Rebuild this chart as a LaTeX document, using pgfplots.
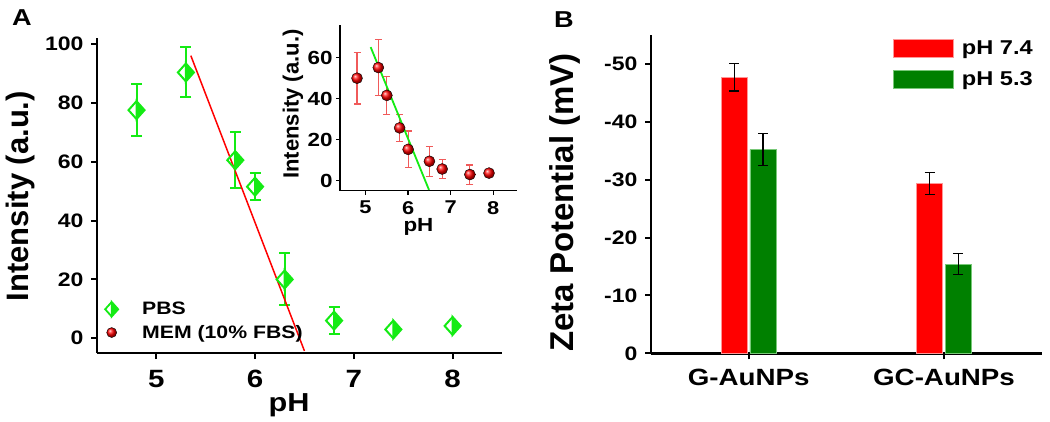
\documentclass[border=0pt]{standalone}
\usepackage{fontspec}
\setmainfont{Liberation Sans}[FakeStretch=1.18]
\newfontfamily\rotfont{Liberation Sans}
\usepackage{pgfplots}
\pgfplotsset{compat=1.18}
\definecolor{lgreen}{RGB}{20,235,20}
\definecolor{dgreen}{RGB}{0,128,0}
\definecolor{ebred}{RGB}{240,90,90}
\definecolor{rededge}{RGB}{255,150,150}
\definecolor{greenedge}{RGB}{120,200,120}
\newcommand{\fs}[1]{\fontsize{#1bp}{#1bp}\selectfont\bfseries}
\pgfdeclareplotmark{halfdiamond}{%
  \pgfpathmoveto{\pgfqpoint{0pt}{1.12\pgfplotmarksize}}%
  \pgfpathlineto{\pgfqpoint{\pgfplotmarksize}{0pt}}%
  \pgfpathlineto{\pgfqpoint{0pt}{-1.12\pgfplotmarksize}}%
  \pgfpathclose
  \pgfusepathqfillstroke
  \pgfpathmoveto{\pgfqpoint{0pt}{1.12\pgfplotmarksize}}%
  \pgfpathlineto{\pgfqpoint{-\pgfplotmarksize}{0pt}}%
  \pgfpathlineto{\pgfqpoint{0pt}{-1.12\pgfplotmarksize}}%
  \pgfusepathqstroke
}
\pgfplotsset{
  myax/.style={scale only axis, anchor=south west, axis lines=left,
    axis line style={-, line width=2.5bp}, tick align=outside,
    major tick length=6bp, every tick/.style={black, line width=2bp},
    /pgf/number format/assume math mode=true, clip=false,
    minor tick num=0},
}
\begin{document}
\begin{tikzpicture}
\useasboundingbox (0bp,0bp) rectangle (1050bp,422bp);
\node[font=\fs{23}] at (22bp,404bp) {A};
\node[font=\fs{23}] at (564bp,402bp) {B};

% ---------- Panel A main ----------
\begin{axis}[myax, at={(97bp,69bp)}, width=405bp, height=315bp,
  xmin=4.4, xmax=8.5, ymin=-5, ymax=102,
  xtick={5,6,7,8}, ytick={0,20,40,60,80,100},
  xticklabel style={font=\fs{25}, yshift=-8bp},
  yticklabel style={font=\fs{19.5}, xshift=-4bp},
  xlabel={pH}, ylabel={Intensity (a.u.)},
  xlabel style={font=\fs{26}, at={(axis description cs:0.474,-0.186)}, anchor=base},
  ylabel style={font=\rotfont\fs{31}, at={(axis description cs:-0.19,0.498)}, anchor=center},
  legend style={at={(axis description cs:0,0)}, anchor=south west, xshift=5bp, yshift=9bp,
    draw=none, fill=none, font=\fs{18}, legend cell align=left, row sep=5bp, column sep=22bp},
]
\addplot[only marks, mark=halfdiamond, mark size=8bp, draw=lgreen, fill=lgreen, line width=2bp,
  forget plot,
  error bars/.cd, y dir=both, y explicit,
  error bar style={lgreen, line width=2bp},
  error mark options={rotate=90, mark size=5.5bp, lgreen, line width=2bp}]
  table[y error=e] {
x y e
4.8 77.5 8.8
5.3 90.3 8.5
5.8 60.5 9.5
6.0 51.5 4.6
6.3 20.0 8.8
6.8 6.0 4.5
};
\addplot[only marks, mark=halfdiamond, mark size=8bp, draw=lgreen, fill=lgreen, line width=2bp,
  forget plot] table {
x y
7.4 3.0
8.0 4.2
};
\addplot[red, line width=1.5bp, forget plot] coordinates {(5.35,96) (6.5,-4.3)};
\addlegendimage{only marks, mark=halfdiamond, mark size=6.5bp, draw=lgreen, fill=lgreen, line width=1.8bp}
\addlegendentry{PBS}
\addlegendimage{only marks, mark=ball, ball color=red, mark size=5bp}
\addlegendentry{MEM (10\% FBS)}
\end{axis}

% ---------- Panel A inset ----------
\begin{axis}[myax, at={(340bp,231.3bp)}, width=176.7bp, height=165.7bp,
  xmin=4.4, xmax=8.55, ymin=-5, ymax=76,
  axis line style={-, line width=1.5bp}, every tick/.style={black, line width=1.5bp},
  major tick length=4bp,
  xtick={5,6,7,8}, ytick={0,20,40,60},
  xticklabel style={font=\fs{18.5}, yshift=-3bp},
  yticklabel style={font=\fs{19}},
  xlabel={pH}, ylabel={Intensity (a.u.)},
  xlabel style={font=\fs{19}, at={(axis description cs:0.444,-0.245)}, anchor=base},
  ylabel style={font=\rotfont\fs{22}, at={(axis description cs:-0.266,0.523)}, anchor=center},
]
\addplot[only marks, mark=ball, ball color=red, mark size=5.5bp,
  error bars/.cd, y dir=both, y explicit,
  error bar style={ebred, line width=1.2bp},
  error mark options={rotate=90, mark size=3.5bp, ebred, line width=1.2bp}]
  table[y error=e] {
x y e
4.8 50.0 12.6
5.3 55.2 13.6
5.5 41.6 9.3
5.8 25.7 6.6
6.0 15.2 9.0
6.5 9.4 7.3
6.8 5.6 4.7
7.45 2.9 4.7
7.9 3.6 0.5
};
\addplot[lgreen, line width=1.8bp] coordinates {(5.12,65.2) (6.49,-4.6)};
\end{axis}

% ---------- Panel B ----------
\begin{axis}[myax, at={(651bp,68.7bp)}, width=390.7bp, height=318.3bp,
  xmin=-0.5, xmax=1.5, ymin=-55, ymax=0, y dir=reverse,
  ybar, bar width=0.135,
  xtick={0,1}, xticklabels={G-AuNPs,GC-AuNPs},
  ytick={-50,-40,-30,-20,-10,0}, yticklabels={-50,-40,-30,-20,-10,0},
  xticklabel style={font=\fs{23.5}, yshift=-6bp},
  yticklabel style={font=\fs{19.5}, xshift=-4bp},
  ylabel={Zeta Potential (mV)},
  ylabel style={font=\rotfont\fs{33}, at={(axis description cs:-0.22,0.474)}, anchor=center},
  legend style={at={(axis description cs:0.612,0.995)}, anchor=north west, draw=none, fill=none,
    font=\fs{20}, legend cell align=left, row sep=12bp, column sep=6bp},
  legend image code/.code={\fill[#1] (0bp,-9bp) rectangle (60bp,9bp);},
]
\addplot[fill=red, draw=rededge, line width=0.6bp, bar shift=-0.074,
  error bars/.cd, y dir=both, y explicit,
  error bar style={black, line width=1.3bp},
  error mark options={rotate=90, mark size=5bp, black, line width=1.3bp}]
  coordinates {(0,-47.7) +- (0,2.4) (1,-29.4) +- (0,1.9)};
\addlegendentry{pH 7.4}
\addplot[fill=dgreen, draw=greenedge, line width=0.6bp, bar shift=0.074,
  error bars/.cd, y dir=both, y explicit,
  error bar style={black, line width=1.3bp},
  error mark options={rotate=90, mark size=5bp, black, line width=1.3bp}]
  coordinates {(0,-35.2) +- (0,2.8) (1,-15.4) +- (0,1.8)};
\addlegendentry{pH 5.3}
\end{axis}
\end{tikzpicture}
\end{document}
